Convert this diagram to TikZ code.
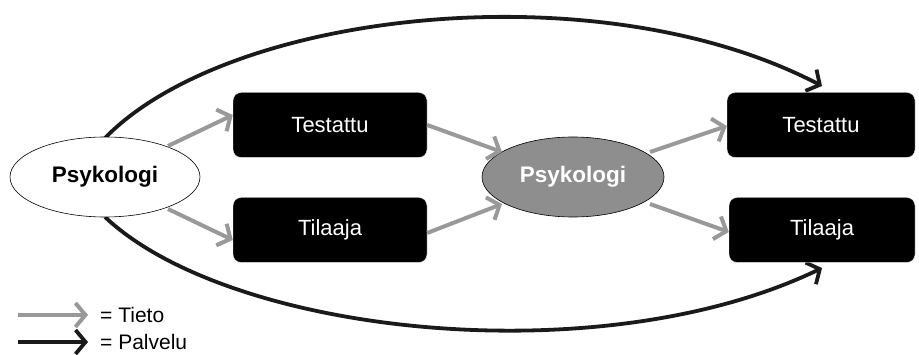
\documentclass[tikz,border=0pt]{standalone}
\usepackage{fontspec}
\setmainfont{Liberation Sans}
\usetikzlibrary{arrows.meta,shapes.geometric}
\definecolor{infogray}{HTML}{999999}
\definecolor{ellgray}{HTML}{8E8E8E}
\definecolor{svcblack}{HTML}{1A1A1A}
\begin{document}
\begin{tikzpicture}[x=1pt,y=-1pt,
  box/.style={draw=white,fill=black,rounded corners=8pt,minimum width=194pt,minimum height=65pt,text=white,font=\fontsize{22}{26}\selectfont,inner sep=0pt},
  ell/.style={ellipse,draw=black,line width=0.6pt,minimum width=190pt,minimum height=80pt,font=\bfseries\fontsize{22.5}{26}\selectfont,inner sep=0pt},
  info/.style={draw=infogray,line width=4pt,-{Straight Barb[length=10pt,width=24pt,line width=4pt]}},
  svc/.style={draw=svcblack,line width=3.8pt,-{Straight Barb[length=10pt,width=24pt,line width=3.8pt]}},
  lbl/.style={anchor=west,font=\fontsize{21}{24}\selectfont,inner sep=0pt}]
\useasboundingbox (0,0) rectangle (919,355);
% end points of the service curves
\coordinate (t1) at (822,86);
\coordinate (t2) at (822,268);
\coordinate (s1) at (105,138);
\coordinate (s2) at (105,217);
\draw[svc] (s1) .. controls (230,10) and (600,-30) .. (t1);
\draw[svc] (s2) .. controls (230,335) and (600,375) .. (t2);
% nodes
\node[ell,fill=white] (lp) at (105,177) {Psykologi};
\node[ell,fill=ellgray,text=white,minimum width=182pt] (mp) at (573,177) {Psykologi};
\node[box] (lt) at (330,125) {Testattu};
\node[box] (lc) at (330,230) {Tilaaja};
\node[box,minimum width=188pt] (rt) at (821,125) {Testattu};
\node[box,minimum width=186pt] (rc) at (822,230) {Tilaaja};
% information arrows
\coordinate (a1) at (168,146);
\coordinate (a2) at (168,209);
\draw[info] (a1) -- (lt.west |- 0,115);
\draw[info] (a2) -- (lc.west |- 0,240);
\draw[info] (lt.east |- 0,125) -- (502,152);
\draw[info] (lc.east |- 0,233) -- (502,204);
\draw[info] (650,152) -- (rt.west |- 0,126);
\draw[info] (650,204) -- (rc.west |- 0,232);
% legend
\coordinate (l1a) at (18,315);
\coordinate (l1b) at (88,315);
\coordinate (l2a) at (18,342);
\coordinate (l2b) at (88,342);
\draw[info] (l1a) -- (l1b);
\draw[svc] (l2a) -- (l2b);
\node[lbl] (lt1) at (100,315) {= Tieto};
\node[lbl] (lt2) at (100,342) {= Palvelu};
\end{tikzpicture}
\end{document}
